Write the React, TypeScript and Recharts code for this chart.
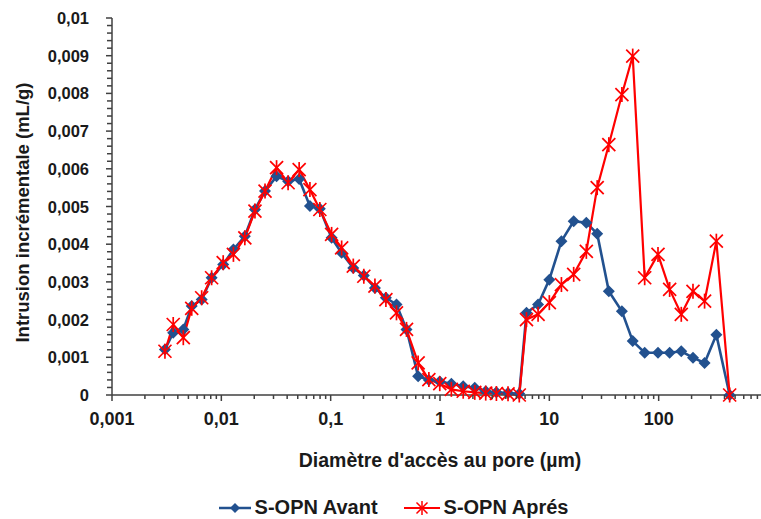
import React from 'react';
import { LineChart, Line, XAxis, YAxis, Legend } from 'recharts';

// pore diameters (µm), shared by both curves
const diameters = [
  0.00305, 0.00363, 0.00449, 0.00536, 0.00661, 0.00815, 0.0104, 0.0129, 0.0164, 0.0203,
  0.0251, 0.032, 0.0408, 0.0515, 0.0646, 0.0796, 0.102, 0.126, 0.161, 0.201,
  0.254, 0.32, 0.4, 0.494, 0.631, 0.791, 0.995, 1.27, 1.63, 2.08,
  2.62, 3.28, 4.19, 5.31, 6.18, 7.89, 10.0, 12.9, 16.7, 21.8,
  27.4, 35.0, 46.1, 57.9, 74.5, 98.6, 126, 161, 206, 263,
  337, 446,
];

// S-OPN Avant (mL/g)
const avant = [
  0.00121, 0.00165, 0.00174, 0.00236, 0.00253, 0.00311, 0.00346, 0.00386, 0.00421, 0.00492,
  0.00541, 0.0058, 0.00567, 0.00573, 0.00501, 0.00494, 0.00417, 0.00377, 0.00337, 0.00317,
  0.00284, 0.00258, 0.0024, 0.00174, 0.0005, 0.0004, 0.00036, 0.0003, 0.00023, 0.00019,
  0.0001, 0.00007, 0.00005, 0.00003, 0.00218, 0.0024, 0.00306, 0.00408, 0.00461, 0.00457,
  0.00428, 0.00275, 0.00222, 0.00143, 0.00112, 0.00112, 0.00112, 0.00116, 0.00099, 0.00085,
  0.0016, 0,
];

// S-OPN Aprés (mL/g)
const apres = [
  0.00116, 0.00187, 0.00152, 0.0023, 0.00258, 0.00311, 0.00351, 0.00373, 0.00417, 0.00488,
  0.00541, 0.00603, 0.00563, 0.00598, 0.00545, 0.00492, 0.00426, 0.0039, 0.00342, 0.00315,
  0.00289, 0.00253, 0.00218, 0.00174, 0.00085, 0.00041, 0.0003, 0.00015, 0.0001, 0.00007,
  0.00005, 0.00004, 0.00003, 0, 0.002, 0.00214, 0.00245, 0.00293, 0.0032, 0.00381,
  0.0055, 0.00664, 0.00797, 0.00899, 0.00311, 0.00373, 0.0028, 0.00214, 0.00275, 0.00249,
  0.00408, 0,
];

const xMajorTicks = [0.001, 0.01, 0.1, 1, 10, 100, 1000];
const xTickLabels = ['0,001', '0,01', '0,1', '1', '10', '100', ''];
const yMajorTicks = [0, 0.001, 0.002, 0.003, 0.004, 0.005, 0.006, 0.007, 0.008, 0.009, 0.01];
const yTickLabels = ['0', '0,001', '0,002', '0,003', '0,004', '0,005', '0,006', '0,007', '0,008', '0,009', '0,01'];

const BLUE = '#22518F';
const RED = '#FF0000';
const AXIS = '#404040';
const TEXT = '#1a1a1a';
const FONT = '"Liberation Sans", Arial, sans-serif';

const data = diameters.map((d, i) => ({ d, avant: avant[i], apres: apres[i] }));

// log minor ticks 1..9 per decade
const xTicks = xMajorTicks.flatMap((m, i) =>
  i < xMajorTicks.length - 1 ? [1, 2, 3, 4, 5, 6, 7, 8, 9].map((k) => m * k) : [m]
);
const yTicks = yMajorTicks.flatMap((m, i) =>
  i < yMajorTicks.length - 1 ? [0, 1, 2, 3, 4].map((k) => m + k * 0.0002) : [m]
);

const XTick = (props: any) => {
  const { x, y, payload } = props;
  const idx = xMajorTicks.indexOf(payload.value);
  const major = idx >= 0;
  return (
    <g>
      <line x1={x} x2={x} y1={y} y2={y + (major ? 6 : 4)} stroke={AXIS} strokeWidth={1.5} />
      {major && xTickLabels[idx] !== '' && (
        <text x={x} y={y + 30} textAnchor="middle" fontSize={18} fontWeight="bold" fill={TEXT} fontFamily={FONT}>
          {xTickLabels[idx]}
        </text>
      )}
    </g>
  );
};

const YTick = (props: any) => {
  const { x, y, payload } = props;
  const idx = yMajorTicks.indexOf(payload.value);
  const major = idx >= 0;
  return (
    <g>
      <line x1={x - (major ? 6 : 5)} x2={x} y1={y} y2={y} stroke={AXIS} strokeWidth={1.5} />
      {major && (
        <text x={x - 23} y={y + 6} textAnchor="end" fontSize={16.5} fontWeight="bold" fill={TEXT} fontFamily={FONT}>
          {yTickLabels[idx]}
        </text>
      )}
    </g>
  );
};

const YLabel = (props: any) => {
  const { viewBox } = props;
  const cx = viewBox.x + 22;
  const cy = viewBox.y + viewBox.height / 2 + 6;
  return (
    <text
      x={cx}
      y={cy}
      transform={`rotate(-90, ${cx}, ${cy})`}
      textAnchor="middle"
      dominantBaseline="central"
      fontSize={18.5}
      fontWeight="bold"
      fill={TEXT}
      fontFamily={FONT}
    >
      Intrusion incrémentale (mL/g)
    </text>
  );
};

const diamondPath = (cx: number, cy: number, r: number) =>
  `M${cx},${cy - r}L${cx + r},${cy}L${cx},${cy + r}L${cx - r},${cy}Z`;

const Diamond = (props: any) => {
  const { cx, cy } = props;
  if (cx == null || cy == null) return <g />;
  return <path d={diamondPath(cx, cy, 6)} fill={BLUE} />;
};

const Star = (props: any) => {
  const { cx, cy } = props;
  if (cx == null || cy == null) return <g />;
  const r = 6.5;
  return (
    <g stroke={RED} strokeWidth={1.7}>
      <line x1={cx - r} y1={cy - r} x2={cx + r} y2={cy + r} />
      <line x1={cx - r} y1={cy + r} x2={cx + r} y2={cy - r} />
      <line x1={cx} y1={cy - r - 1} x2={cx} y2={cy + r + 1} />
    </g>
  );
};

const LegendContent = () => (
  <div
    style={{
      display: 'flex',
      justifyContent: 'center',
      alignItems: 'center',
      gap: 26,
      paddingLeft: 26,
      fontFamily: FONT,
      fontWeight: 'bold',
      fontSize: 20,
      color: TEXT,
    }}
  >
    <div style={{ display: 'flex', alignItems: 'center', gap: 4 }}>
      <svg width={32} height={16}>
        <line x1={0} x2={32} y1={8} y2={8} stroke={BLUE} strokeWidth={2.5} />
        <path d={diamondPath(16, 8, 5)} fill={BLUE} />
      </svg>
      <span>S-OPN Avant</span>
    </div>
    <div style={{ display: 'flex', alignItems: 'center', gap: 4 }}>
      <svg width={36} height={16}>
        <line x1={0} x2={36} y1={8} y2={8} stroke={RED} strokeWidth={2} />
        <g stroke={RED} strokeWidth={1.5}>
          <line x1={12.5} y1={2.5} x2={23.5} y2={13.5} />
          <line x1={12.5} y1={13.5} x2={23.5} y2={2.5} />
          <line x1={18} y1={1} x2={18} y2={15} />
        </g>
      </svg>
      <span>S-OPN Aprés</span>
    </div>
  </div>
);

export default function App() {
  return (
    <div style={{ position: 'absolute', left: 0, top: 0, width: 761, height: 519, overflow: 'hidden', background: '#fff' }}>
      <LineChart width={780} height={519} data={data} margin={{ top: 18, right: 12, left: 0, bottom: 44 }}>
        <XAxis
          dataKey="d"
          type="number"
          scale="log"
          domain={[0.001, 1000]}
          allowDataOverflow
          ticks={xTicks}
          interval={0}
          tick={<XTick />}
          tickLine={false}
          tickSize={0}
          tickMargin={0}
          height={80}
          axisLine={{ stroke: AXIS, strokeWidth: 1.5 }}
          label={{
            value: "Diamètre d'accès au pore (µm)",
            position: 'insideBottom',
            offset: 8,
            fontSize: 19.5,
            fontWeight: 'bold',
            fill: TEXT,
            fontFamily: FONT,
          }}
        />
        <YAxis
          type="number"
          domain={[0, 0.01]}
          ticks={yTicks}
          interval={0}
          tick={<YTick />}
          tickLine={false}
          tickSize={0}
          tickMargin={0}
          width={112}
          axisLine={{ stroke: AXIS, strokeWidth: 1.5 }}
          label={<YLabel />}
        />
        <Legend
          verticalAlign="middle"
          align="center"
          layout="horizontal"
          content={<LegendContent />}
          wrapperStyle={{ top: 496, left: 0, width: 761 }}
        />
        <Line
          type="linear"
          dataKey="avant"
          name="S-OPN Avant"
          stroke={BLUE}
          strokeWidth={2.6}
          dot={(p: any) => <Diamond key={`a-${p.index}`} {...p} />}
          activeDot={false}
          isAnimationActive={false}
        />
        <Line
          type="linear"
          dataKey="apres"
          name="S-OPN Aprés"
          stroke={RED}
          strokeWidth={2.2}
          dot={(p: any) => <Star key={`b-${p.index}`} {...p} />}
          activeDot={false}
          isAnimationActive={false}
        />
      </LineChart>
    </div>
  );
}
